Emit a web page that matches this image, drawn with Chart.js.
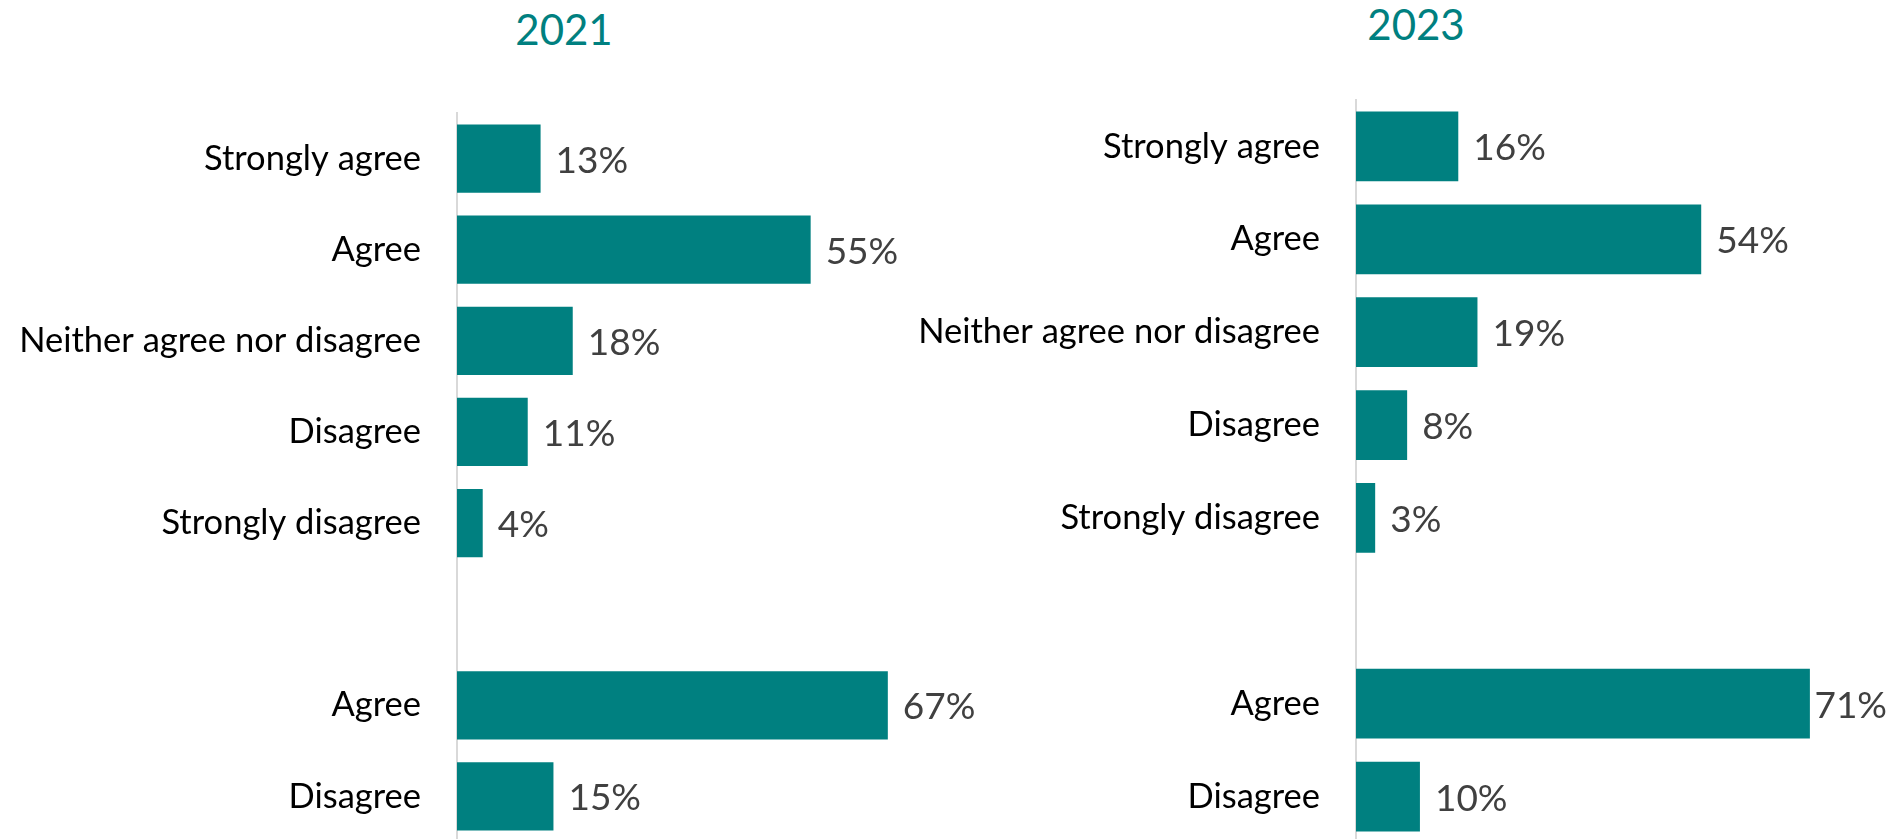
<!DOCTYPE html>
<html>
<head>
<meta charset="utf-8">
<script src="https://cdn.jsdelivr.net/npm/chart.js@4/dist/chart.umd.min.js"></script>
<style>
  html, body { margin: 0; padding: 0; background: #fff; overflow: hidden; }
  body { width: 1893px; height: 839px; position: relative; }
  canvas { position: absolute; top: 0; }
  .year { position: absolute; font-family: Lato, sans-serif; font-size: 42px; color: #008080;
          transform: translate(-50%, -50%); white-space: nowrap; line-height: 1; }
</style>
</head>
<body>
<div class="year" style="left:564px; top:29px;">2021</div>
<div class="year" style="left:1416px; top:24px;">2023</div>
<canvas id="chart2021" width="1010" height="842" style="left:0;"></canvas>
<canvas id="chart2023" width="1013" height="843" style="left:880px;"></canvas>
<script>
// categories (the blank one is the gap between the two groups)
const categories = ['Strongly agree', 'Agree', 'Neither agree nor disagree', 'Disagree', 'Strongly disagree', '', 'Agree', 'Disagree'];
const values2021 = [13, 55, 18, 11, 4, null, 67, 15];
const values2023 = [16, 54, 19, 8, 3, null, 71, 10];

const teal = '#008080';

// draws the "13%" labels at the end of each bar
const valueLabels = {
    id: 'valueLabels',
    afterDatasetsDraw(chart) {
        const c = chart.ctx;
        const meta = chart.getDatasetMeta(0);
        const vals = chart.data.datasets[0].data;
        c.save();
        c.font = '37px Lato, sans-serif';
        c.fillStyle = '#404040';
        c.textBaseline = 'middle';
        c.textAlign = 'left';
        meta.data.forEach((bar, i) => {
            if (vals[i] == null) return;
            const txt = vals[i] + '%';
            // pull the label in if it would run off the canvas
            const x = Math.min(bar.x + 15, chart.width - c.measureText(txt).width - 6);
            c.fillText(txt, x, bar.y + 2);
        });
        c.restore();
    }
};

function makeChart(id, values, axisLeft, topPad, xMax) {
    return new Chart(document.getElementById(id), {
        type: 'bar',
        data: {
            labels: categories,
            datasets: [{
                data: values,
                backgroundColor: teal,
                borderWidth: 0,
                barPercentage: 0.75,
                categoryPercentage: 1
            }]
        },
        options: {
            indexAxis: 'y',
            responsive: false,
            animation: false,
            layout: { padding: { top: topPad, left: 0, right: 0, bottom: 0 } },
            plugins: {
                legend: { display: false },
                tooltip: { enabled: false }
            },
            scales: {
                x: {
                    display: false,
                    min: 0,
                    max: xMax
                },
                y: {
                    grid: { display: false, drawTicks: false },
                    border: { display: true, color: '#d9d9d9', width: 2 },
                    ticks: {
                        color: '#000',
                        padding: 36,
                        font: { family: 'Lato', size: 34.5 }
                    },
                    afterFit(scale) {
                        scale.width = axisLeft;
                        // tick padding is meant for the gap to the axis only
                        scale.paddingTop = 0;
                        scale.paddingBottom = 0;
                    }
                }
            }
        },
        plugins: [valueLabels]
    });
}

makeChart('chart2021', values2021, 457, 113, 86);
makeChart('chart2023', values2023, 476, 100, 84);
</script>
</body>
</html>
